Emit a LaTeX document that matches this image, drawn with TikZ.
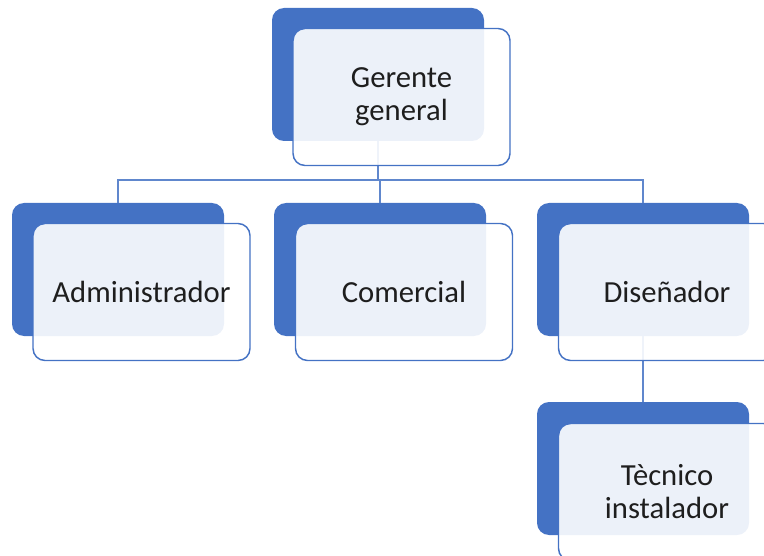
\documentclass[tikz,border=0pt]{standalone}
\usepackage{fontspec}
\setmainfont{Carlito}
\usepackage{tikz}
\usetikzlibrary{positioning}

\definecolor{orgblue}{HTML}{4472C4}
\definecolor{orgtext}{HTML}{1E1E1E}

\tikzset{
	back/.style={fill=orgblue, rounded corners=9pt, minimum width=159pt, minimum height=99.75pt, inner sep=0pt},
	card/.style={draw=orgblue, line width=1.1pt, fill=white, fill opacity=0.9, text opacity=1, text=orgtext,
		rounded corners=9pt, minimum width=162.75pt, minimum height=102.75pt, align=center,
		font=\fontsize{23}{24.75}\selectfont},
	link/.style={draw=orgblue!85!white, line width=1.4pt},
}

\begin{document}
\begin{tikzpicture}[x=0.75pt, y=-0.75pt]
	\useasboundingbox (0,0) rectangle (764,556);
	% dark back plates
	\node[back] (gerBack) at (378,74.5) {};
	\node[back] (admBack) at (118,269.5) {};
	\node[back] (comBack) at (380,269.5) {};
	\node[back] (disBack) at (643,269.5) {};
	\node[back] (tecBack) at (643,468.5) {};
	%
	\coordinate (bus) at (378,180);
	\draw[link] (gerBack.south) -- (bus);
	\draw[link] (admBack.north) |- (bus) -| (disBack.north);
	\draw[link] (comBack.north) -- (comBack.north |- bus);
	\draw[link] (disBack.south) -- (tecBack.north);
	% light cards with the labels
	\node[card] (gerente) at (401.5,97) {Gerente\\general};
	\node[card] (admin) at (141.5,292) {Administrador};
	\node[card] (comercial) at (404,292) {Comercial};
	\node[card] (disenador) at (667,292) {Diseñador};
	\node[card] (tecnico) at (667,492) {Tècnico\\instalador};
\end{tikzpicture}
\end{document}
